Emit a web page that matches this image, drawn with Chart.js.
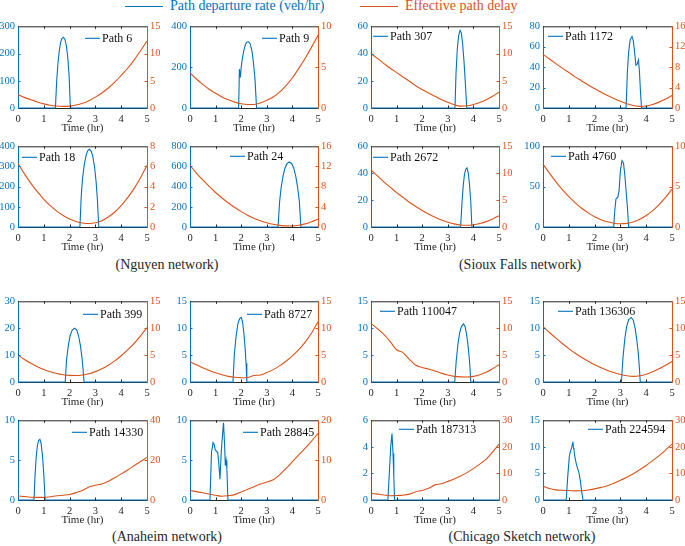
<!DOCTYPE html>
<html>
<head>
<meta charset="utf-8">
<script src="https://cdn.jsdelivr.net/npm/chart.js@4.4.1/dist/chart.umd.min.js"></script>
<style>
  body { margin: 0; background: #fff; width: 685px; height: 546px; position: relative; overflow: hidden;
         font-family: "Liberation Serif", "Times New Roman", serif; }
  canvas { position: absolute; }
  .keyline { position: absolute; height: 1.2px; }
  .keytxt { position: absolute; font-size: 14px; line-height: 14px; white-space: nowrap; }
  .net { position: absolute; font-size: 14px; line-height: 16px; color: #262626; white-space: nowrap; transform: translate(-50%, -50%); }
</style>
</head>
<body>
<script>
// ---- data ----
const seriesNames = ['Path departure rate (veh/hr)', 'Effective path delay'];
const networkNames = ['(Nguyen network)', '(Sioux Falls network)', '(Anaheim network)', '(Chicago Sketch network)'];
const pathNames = ['Path 6', 'Path 9', 'Path 307', 'Path 1172',
                   'Path 18', 'Path 24', 'Path 2672', 'Path 4760',
                   'Path 399', 'Path 8727', 'Path 110047', 'Path 136306',
                   'Path 14330', 'Path 28845', 'Path 187313', 'Path 224594'];
const timeTicks = [0, 1, 2, 3, 4, 5];
const rateMax   = [300, 400, 60, 80, 400, 800, 60, 100, 30, 15, 15, 15, 10, 10, 6, 15];
const rateStep  = [100, 200, 20, 20, 100, 200, 20, 50, 10, 5, 5, 5, 5, 5, 2, 5];
const delayMax  = [15, 10, 15, 16, 8, 16, 15, 10, 15, 15, 15, 15, 40, 20, 30, 30];
const delayStep = [5, 5, 5, 4, 2, 4, 5, 5, 5, 5, 5, 5, 20, 10, 10, 10];

// effective path delay, sampled every 0.25 hr
const delayTime = [0, 0.25, 0.5, 0.75, 1, 1.25, 1.5, 1.75, 2, 2.25, 2.5, 2.75, 3, 3.25, 3.5, 3.75, 4, 4.25, 4.5, 4.75, 5];
const delay6      = [2.5, 1.95, 1.53, 1.1, 0.76, 0.52, 0.37, 0.3, 0.35, 0.55, 0.87, 1.35, 2.0, 2.76, 3.68, 4.75, 6.0, 7.3, 8.8, 10.5, 12.3];
const delay9      = [4.3, 3.55, 2.9, 2.3, 1.8, 1.35, 1.0, 0.72, 0.52, 0.42, 0.43, 0.6, 0.95, 1.35, 1.95, 2.75, 3.7, 4.85, 6.1, 7.45, 8.9];
const delay307    = [10, 9.1, 8.2, 7.3, 6.5, 5.7, 4.9, 4.1, 3.4, 2.75, 2.15, 1.55, 1.05, 0.6, 0.35, 0.4, 0.65, 1.0, 1.5, 2.15, 2.9];
const delay1172   = [10.5, 9.6, 8.7, 7.8, 6.95, 6.1, 5.3, 4.5, 3.8, 3.1, 2.45, 1.85, 1.3, 0.85, 0.5, 0.32, 0.4, 0.7, 1.15, 1.75, 2.45];
const delay18     = [6.3, 5.27, 4.33, 3.5, 2.75, 2.12, 1.58, 1.14, 0.79, 0.55, 0.4, 0.35, 0.42, 0.63, 0.99, 1.49, 2.13, 2.91, 3.83, 4.89, 6.1];
const delay24     = [12.2, 10.7, 9.33, 8.04, 6.84, 5.75, 4.75, 3.85, 3.05, 2.35, 1.75, 1.24, 0.84, 0.53, 0.33, 0.22, 0.21, 0.34, 0.62, 1.04, 1.6];
const delay2672   = [10.6, 9.5, 8.4, 7.4, 6.4, 5.5, 4.6, 3.8, 3.05, 2.4, 1.8, 1.3, 0.9, 0.58, 0.38, 0.32, 0.42, 0.65, 1.0, 1.5, 2.1];
const delay4760   = [7.8, 6.67, 5.6, 4.63, 3.76, 3.0, 2.32, 1.75, 1.28, 0.91, 0.64, 0.47, 0.4, 0.45, 0.63, 0.95, 1.42, 2.03, 2.78, 3.67, 4.7];
const delay399    = [5.0, 4.18, 3.47, 2.85, 2.33, 1.91, 1.58, 1.36, 1.23, 1.2, 1.3, 1.54, 1.93, 2.45, 3.12, 3.93, 4.88, 5.97, 7.2, 8.58, 10.1];
const delay8727   = [3.8, 3.2, 2.65, 2.15, 1.72, 1.35, 1.05, 0.87, 0.8, 0.85, 1.2, 1.3, 1.75, 2.3, 3.0, 3.85, 4.85, 6.0, 7.4, 9.1, 11.2];
const delay110047 = [10.9, 9.9, 8.85, 7.5, 6.0, 5.45, 4.2, 3.1, 2.7, 2.4, 2.05, 1.65, 1.3, 1.05, 0.95, 0.92, 1.05, 1.35, 1.8, 2.45, 3.2];
const delay136306 = [10.3, 9.2, 8.15, 7.15, 6.2, 5.35, 4.55, 3.85, 3.2, 2.65, 2.15, 1.75, 1.4, 1.15, 1.05, 1.15, 1.45, 1.9, 2.45, 3.1, 3.8];
const delay14330  = [2.0, 1.7, 1.4, 1.3, 1.3, 1.6, 2.1, 2.4, 2.8, 3.7, 4.8, 6.5, 7.4, 8.0, 9.4, 11.2, 13.1, 15.1, 17.2, 19.3, 21.4];
const delay28845  = [2.4, 2.1, 1.8, 1.5, 1.2, 0.95, 1.1, 1.35, 2.0, 2.7, 3.3, 4.0, 4.5, 5.1, 6.3, 7.9, 9.6, 11.3, 13.0, 14.8, 16.7];
const delay187313 = [2.5, 2.2, 1.9, 1.6, 1.7, 1.8, 2.2, 3.1, 3.6, 4.4, 5.7, 6.1, 7.0, 7.9, 9.0, 10.3, 11.8, 13.5, 15.4, 18.1, 21.0];
const delay224594 = [5.2, 4.3, 3.8, 3.65, 3.55, 3.45, 3.5, 3.75, 4.2, 4.75, 5.4, 6.3, 7.4, 8.6, 9.9, 11.4, 13.0, 14.8, 16.7, 18.8, 21.0];

// path departure rate (veh/hr)
const rateTime6 = [0, 1.45, 1.5, 1.55, 1.6, 1.65, 1.7, 1.76, 1.82, 1.88, 1.93, 1.98, 2.03, 5];
const rate6     = [0, 0, 100, 165, 210, 240, 255, 260, 252, 225, 185, 120, 0, 0];
const rateTime9 = [0, 1.9, 1.93, 1.97, 2.0, 2.05, 2.1, 2.15, 2.2, 2.27, 2.35, 2.42, 2.48, 2.54, 2.6, 5];
const rate9     = [0, 0, 190, 150, 200, 245, 280, 305, 320, 325, 315, 280, 220, 140, 0, 0];
const rateTime307 = [0, 3.28, 3.32, 3.37, 3.42, 3.48, 3.53, 3.58, 3.63, 3.68, 3.74, 5];
const rate307     = [0, 0, 25, 43, 53, 57, 55, 47, 35, 20, 0, 0];
const rateTime1172 = [0, 3.22, 3.27, 3.32, 3.38, 3.45, 3.5, 3.55, 3.6, 3.65, 3.7, 3.74, 3.78, 3.82, 5];
const rate1172     = [0, 0, 35, 55, 67, 70, 66, 55, 42, 43, 47, 35, 15, 0, 0];
const rateTime18 = [0, 2.4, 2.45, 2.5, 2.57, 2.64, 2.7, 2.77, 2.84, 2.9, 2.97, 3.03, 3.08, 3.13, 5];
const rate18     = [0, 0, 150, 240, 310, 355, 378, 385, 375, 350, 295, 220, 130, 0, 0];
const rateTime24 = [0, 3.44, 3.5, 3.56, 3.63, 3.7, 3.78, 3.88, 3.97, 4.05, 4.13, 4.2, 4.27, 4.33, 5];
const rate24     = [0, 0, 250, 390, 500, 575, 625, 645, 630, 585, 505, 400, 260, 0, 0];
const rateTime2672 = [0, 3.5, 3.55, 3.6, 3.65, 3.7, 3.75, 3.8, 3.85, 3.9, 3.94, 5];
const rate2672     = [0, 0, 17, 30, 39, 43, 44, 40, 31, 18, 0, 0];
const rateTime4760 = [0, 2.74, 2.78, 2.83, 2.9, 2.95, 3.0, 3.06, 3.12, 3.17, 3.22, 3.27, 3.32, 5];
const rate4760     = [0, 0, 20, 35, 37, 45, 70, 82, 79, 65, 45, 25, 0, 0];
const rateTime399 = [0, 1.83, 1.88, 1.95, 2.02, 2.1, 2.2, 2.28, 2.35, 2.42, 2.48, 2.52, 2.56, 5];
const rate399     = [0, 0, 8, 13.5, 17.2, 19.3, 20, 19.3, 17, 13.5, 9, 5, 0, 0];
const rateTime8727 = [0, 1.68, 1.73, 1.8, 1.87, 1.94, 2.0, 2.05, 2.1, 2.15, 2.19, 2.22, 5];
const rate8727     = [0, 0, 5, 8.5, 10.8, 11.8, 12, 11.2, 9.3, 6.5, 3.5, 0, 0];
const rateTime110047 = [0, 3.27, 3.33, 3.4, 3.47, 3.54, 3.61, 3.67, 3.73, 3.79, 3.85, 3.9, 5];
const rate110047     = [0, 0, 4, 7.2, 9.3, 10.4, 10.8, 10.4, 9, 6.8, 3.8, 0, 0];
const rateTime136306 = [0, 3.04, 3.1, 3.17, 3.24, 3.32, 3.42, 3.5, 3.57, 3.63, 3.69, 3.73, 3.77, 5];
const rate136306     = [0, 0, 4.5, 8, 10.3, 11.6, 12, 11.5, 10, 8, 5.5, 3, 0, 0];
const rateTime14330 = [0, 0.62, 0.66, 0.7, 0.75, 0.8, 0.85, 0.9, 0.95, 1.0, 1.05, 5];
const rate14330     = [0, 0, 3, 5.2, 6.8, 7.5, 7.6, 7, 5.5, 3.2, 0, 0];
const rateTime28845 = [0, 0.78, 0.84, 0.9, 0.94, 0.98, 1.03, 1.08, 1.12, 1.17, 1.22, 1.27, 1.31, 1.35, 1.38, 1.41, 1.44, 1.48, 5];
const rate28845     = [0, 0, 6, 7.2, 7.0, 6.4, 6.1, 6.0, 4.8, 2.6, 6.0, 8.2, 9.7, 7.0, 4.3, 5.0, 4.0, 0, 0];
const rateTime187313 = [0, 0.66, 0.72, 0.77, 0.82, 0.86, 0.89, 0.92, 5];
const rate187313     = [0, 0, 2.2, 4.0, 5.0, 3.5, 1.8, 0, 0];
const rateTime224594 = [0, 0.9, 0.96, 1.02, 1.07, 1.11, 1.14, 1.16, 1.18, 1.2, 1.22, 1.26, 1.3, 1.35, 1.4, 1.45, 1.5, 1.55, 5];
const rate224594     = [0, 0, 4.5, 8.2, 9.3, 9.8, 10.6, 11, 9.8, 9.5, 8.6, 7.5, 6.6, 5.8, 5.0, 3.5, 1.5, 0, 0];

const rateTimes = [rateTime6, rateTime9, rateTime307, rateTime1172, rateTime18, rateTime24, rateTime2672, rateTime4760,
                   rateTime399, rateTime8727, rateTime110047, rateTime136306, rateTime14330, rateTime28845, rateTime187313, rateTime224594];
const rates = [rate6, rate9, rate307, rate1172, rate18, rate24, rate2672, rate4760,
               rate399, rate8727, rate110047, rate136306, rate14330, rate28845, rate187313, rate224594];
const delays = [delay6, delay9, delay307, delay1172, delay18, delay24, delay2672, delay4760,
                delay399, delay8727, delay110047, delay136306, delay14330, delay28845, delay187313, delay224594];

// ---- layout ----
const colX = [18, 190, 371, 543];
const colW = [129, 128, 128, 129];
const rowY = [25, 145, 300, 419];
const rowH = [83, 82, 82, 81];
const legendDx = [67, 72, 2, 5, 4, 40, 2, 8, 65, 57, 9, 15, 54, 53, 28, 45];
const legendDy = [12, 12, 10, 10, 11, 10, 11, 10, 13, 13, 10, 10, 12, 12, 9, 9];
const netX = [167, 520, 167, 522];
const netY = [265, 265, 537, 537];

const BLUE = '#0072BD', ORANGE = '#D95319', DARK = '#262626';
const FONT = '"Liberation Serif", "Times New Roman", serif';
const PAD_L = 30, PAD_R = 26, PAD_T = 8, AX_H = 27, PAD_B = 4;

// top key
function addKey(x, color, text) {
  const ln = document.createElement('div');
  ln.className = 'keyline';
  ln.style.cssText = 'left:' + x + 'px;top:6px;width:38px;background:' + color;
  document.body.appendChild(ln);
  const tx = document.createElement('div');
  tx.className = 'keytxt';
  tx.style.cssText = 'left:' + (x + 45) + 'px;top:-1px;color:' + color;
  tx.textContent = text;
  document.body.appendChild(tx);
}
addKey(125, BLUE, seriesNames[0]);
addKey(360, ORANGE, seriesNames[1]);

networkNames.forEach((n, k) => {
  const d = document.createElement('div');
  d.className = 'net';
  d.style.left = netX[k] + 'px';
  d.style.top = netY[k] + 'px';
  d.textContent = n;
  document.body.appendChild(d);
});

// top edge, inward ticks and the small in-panel legend
const framePlugin = {
  id: 'frame',
  afterDatasetsDraw(chart, args, opts) {
    const { ctx, chartArea: a, scales } = chart;
    ctx.save();
    ctx.lineWidth = 1;
    ctx.strokeStyle = DARK;
    ctx.beginPath();
    ctx.moveTo(a.left, a.top + 0.5);
    ctx.lineTo(a.right, a.top + 0.5);
    const tl = 2.5;
    scales.x.ticks.forEach((t, j, arr) => {
      if (j === 0 || j === arr.length - 1) return;
      const px = Math.round(scales.x.getPixelForValue(t.value)) + 0.5;
      ctx.moveTo(px, a.bottom); ctx.lineTo(px, a.bottom - tl);
      ctx.moveTo(px, a.top); ctx.lineTo(px, a.top + tl);
    });
    ctx.stroke();
    [['y', BLUE, a.left, 1], ['y1', ORANGE, a.right, -1]].forEach(([id, col, x0, dir]) => {
      ctx.strokeStyle = col;
      ctx.beginPath();
      scales[id].ticks.forEach((t, j, arr) => {
        if (j === 0 || j === arr.length - 1) return;
        const py = Math.round(scales[id].getPixelForValue(t.value)) + 0.5;
        ctx.moveTo(x0, py); ctx.lineTo(x0 + dir * tl, py);
      });
      ctx.stroke();
    });
    const lx = a.left + opts.dx, ly = a.top + opts.dy;
    ctx.strokeStyle = BLUE;
    ctx.lineWidth = 1.1;
    ctx.beginPath();
    ctx.moveTo(lx, ly);
    ctx.lineTo(lx + 15, ly);
    ctx.stroke();
    ctx.fillStyle = '#111';
    ctx.font = '12px ' + FONT;
    ctx.textBaseline = 'middle';
    ctx.fillText(opts.name, lx + 17, ly + 0.5);
    ctx.restore();
  }
};

function makePanel(i) {
  const col = i % 4, row = Math.floor(i / 4);
  const w = PAD_L + colW[col] + PAD_R;
  const h = PAD_T + rowH[row] + AX_H + PAD_B;
  const cv = document.createElement('canvas');
  cv.width = w; cv.height = h;
  cv.style.left = (colX[col] - PAD_L) + 'px';
  cv.style.top = (rowY[row] - PAD_T) + 'px';
  cv.style.width = w + 'px'; cv.style.height = h + 'px';
  document.body.appendChild(cv);

  const tickFont = { family: FONT, size: 10.5 };
  const noGrid = { display: true, drawOnChartArea: false, drawTicks: false };

  new Chart(cv, {
    type: 'line',
    data: {
      datasets: [
        {
          label: seriesNames[1],
          data: delayTime.map((t, k) => ({ x: t, y: delays[i][k] })),
          yAxisID: 'y1',
          borderColor: ORANGE,
          borderWidth: 1.1,
          pointRadius: 0,
          cubicInterpolationMode: 'monotone',
          clip: 4,
        },
        {
          label: pathNames[i],
          data: rateTimes[i].map((t, k) => ({ x: t, y: rates[i][k] })),
          yAxisID: 'y',
          borderColor: BLUE,
          borderWidth: 1.1,
          pointRadius: 0,
          tension: 0,
          clip: 4,
        },
      ],
    },
    options: {
      responsive: false,
      devicePixelRatio: 1,
      animation: false,
      events: [],
      layout: { padding: { top: PAD_T, bottom: PAD_B, left: 0, right: 0 } },
      plugins: {
        legend: { display: false },
        tooltip: { enabled: false },
        frame: { name: pathNames[i], dx: legendDx[i], dy: legendDy[i] },
      },
      scales: {
        x: {
          type: 'linear', position: 'bottom', min: 0, max: 5,
          afterBuildTicks: s => { s.ticks = timeTicks.map(v => ({ value: v })); },
          afterFit: s => { s.height = AX_H; },
          grid: noGrid,
          border: { display: true, color: DARK, width: 1 },
          ticks: { color: DARK, padding: 5, maxRotation: 0, autoSkip: false, font: tickFont },
          title: { display: true, text: 'Time (hr)', color: DARK, padding: 0, font: { family: FONT, size: 11 } },
        },
        y: {
          position: 'left', min: 0, max: rateMax[i],
          afterFit: s => { s.width = PAD_L; },
          grid: noGrid,
          border: { display: true, color: BLUE, width: 1 },
          ticks: { stepSize: rateStep[i], color: BLUE, padding: 3, font: tickFont },
        },
        y1: {
          position: 'right', min: 0, max: delayMax[i],
          afterFit: s => { s.width = PAD_R; },
          grid: noGrid,
          border: { display: true, color: ORANGE, width: 1 },
          ticks: { stepSize: delayStep[i], color: ORANGE, padding: 3, font: tickFont },
        },
      },
    },
    plugins: [framePlugin],
  });
}

for (let i = 0; i < 16; i++) makePanel(i);
</script>
</body>
</html>
